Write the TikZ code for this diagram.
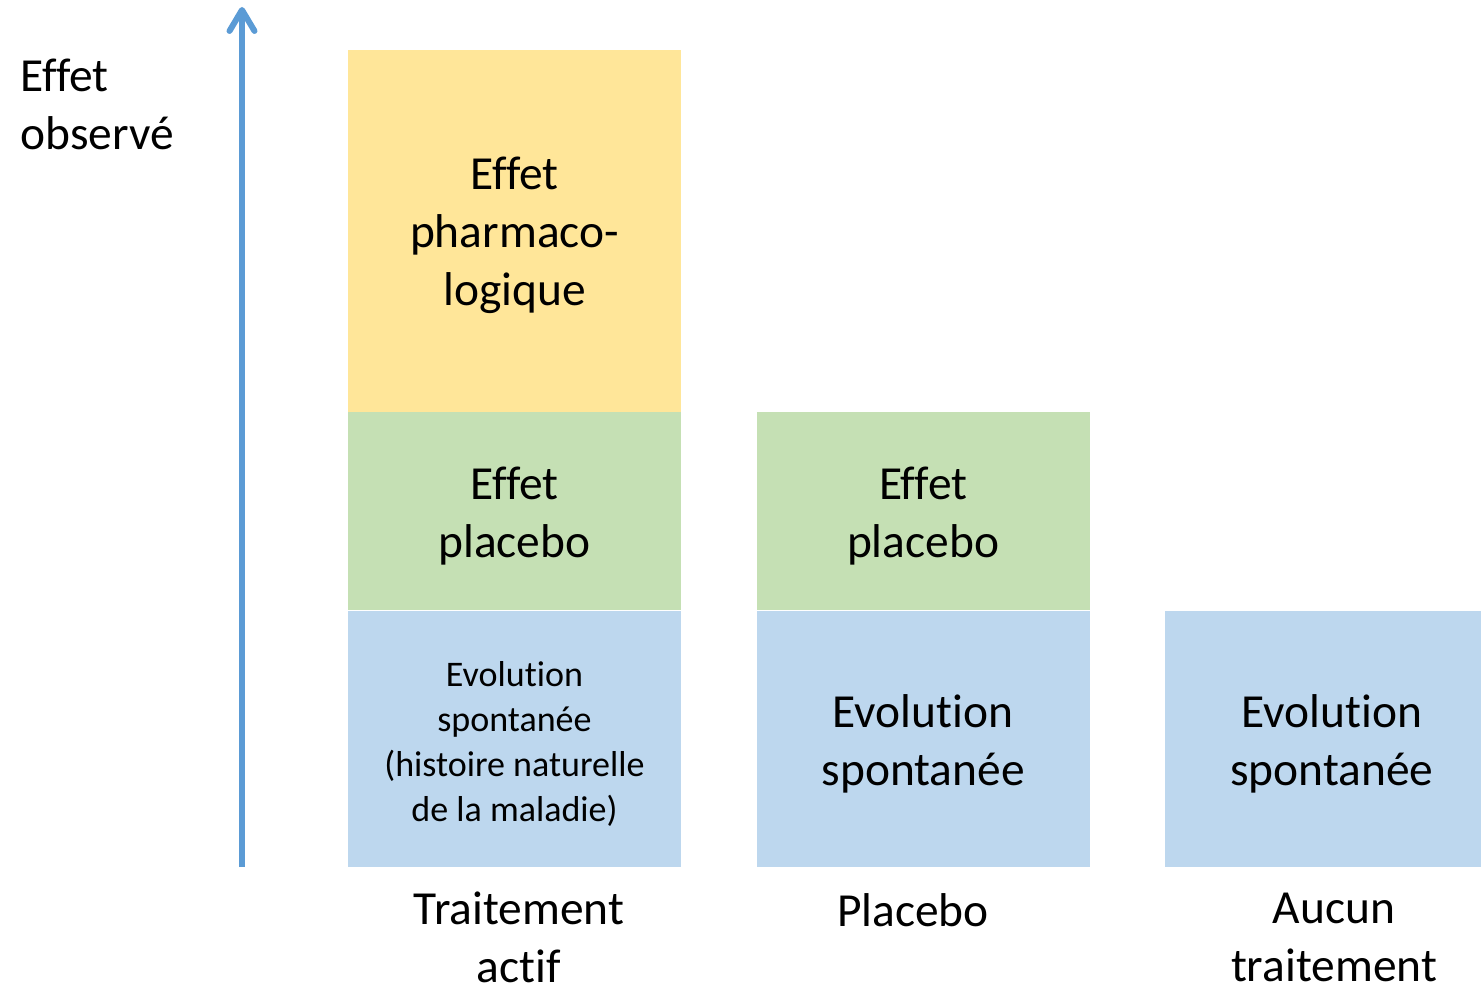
\documentclass[tikz,border=0pt]{standalone}
\usepackage{fontspec}
\setmainfont{Carlito}[Ligatures=NoCommon]
\usetikzlibrary{arrows.meta}
\usetikzlibrary{positioning}
\definecolor{jaune}{HTML}{FFE699}
\definecolor{vert}{HTML}{C5E0B4}
\definecolor{bleu}{HTML}{BDD7EE}
\definecolor{axebleu}{HTML}{5B9BD5}
\tikzset{
    bar/.style={
           rectangle,
           minimum width=6.66cm,
           inner sep=0pt,
           },
    txt/.style={
           inner sep=0pt,
           align=center,
           yshift=-0.1cm,
           font=\fontsize{27}{33}\selectfont,
           },
    etiq/.style={
           inner sep=0pt,
           align=center,
           font=\fontsize{27}{33}\selectfont,
           },
}

\begin{document}
\begin{tikzpicture}[x=0.02cm, y=-0.02cm]
      \clip (0,0) rectangle (1481,986);
      \node[bar, fill=bleu, minimum height=5.12cm] (spont1) at (514.5,739)
            {};
      \node[bar, fill=vert, minimum height=3.96cm] (plac1) [above=0pt of spont1] {};
      \node[bar, fill=jaune, minimum height=7.24cm] (pharma) [above=0pt of plac1] {};
      \node[bar, fill=bleu, minimum height=5.12cm] (spont2) [right=1.5cm of spont1] {};
      \node[bar, fill=vert, minimum height=3.96cm] (plac2) [above=0pt of spont2] {};
      \node[bar, fill=bleu, minimum height=5.12cm] (spont3) [right=1.5cm of spont2] {};

      \node[txt, font=\fontsize{20.5}{25.5}\selectfont] (t1) at (spont1.center)
            {Evolution\\spontanée\\(histoire naturelle\\de la maladie)};
      \node[txt] (t2) at (plac1.center) {Effet\\placebo};
      \node[txt] (t3) at (pharma.center) {Effet\\pharmaco-\\logique};
      \node[txt] (t4) at (spont2.center) {Evolution\\spontanée};
      \node[txt] (t5) at (plac2.center) {Effet\\placebo};
      \node[txt] (t6) at (spont3.center) {Evolution\\spontanée};

      \node[etiq] (lab1) at (519,937) {Traitement\\actif};
      \node[etiq] (lab2) at (913,910) {Placebo};
      \node[etiq] (lab3) at (1334,937) {Aucun\\traitement};
      \node[etiq, align=left, anchor=west] (titre) at (20,104) {Effet\\observé};

      \coordinate (ybas) at (242,867);
      \coordinate (yhaut) at (242,7);
      \draw[axebleu, line width=3.4pt, -{Straight Barb[length=0.42cm, width=0.5cm, line cap=round, line join=round]}] (ybas) -- (yhaut);
\end{tikzpicture}
\end{document}
